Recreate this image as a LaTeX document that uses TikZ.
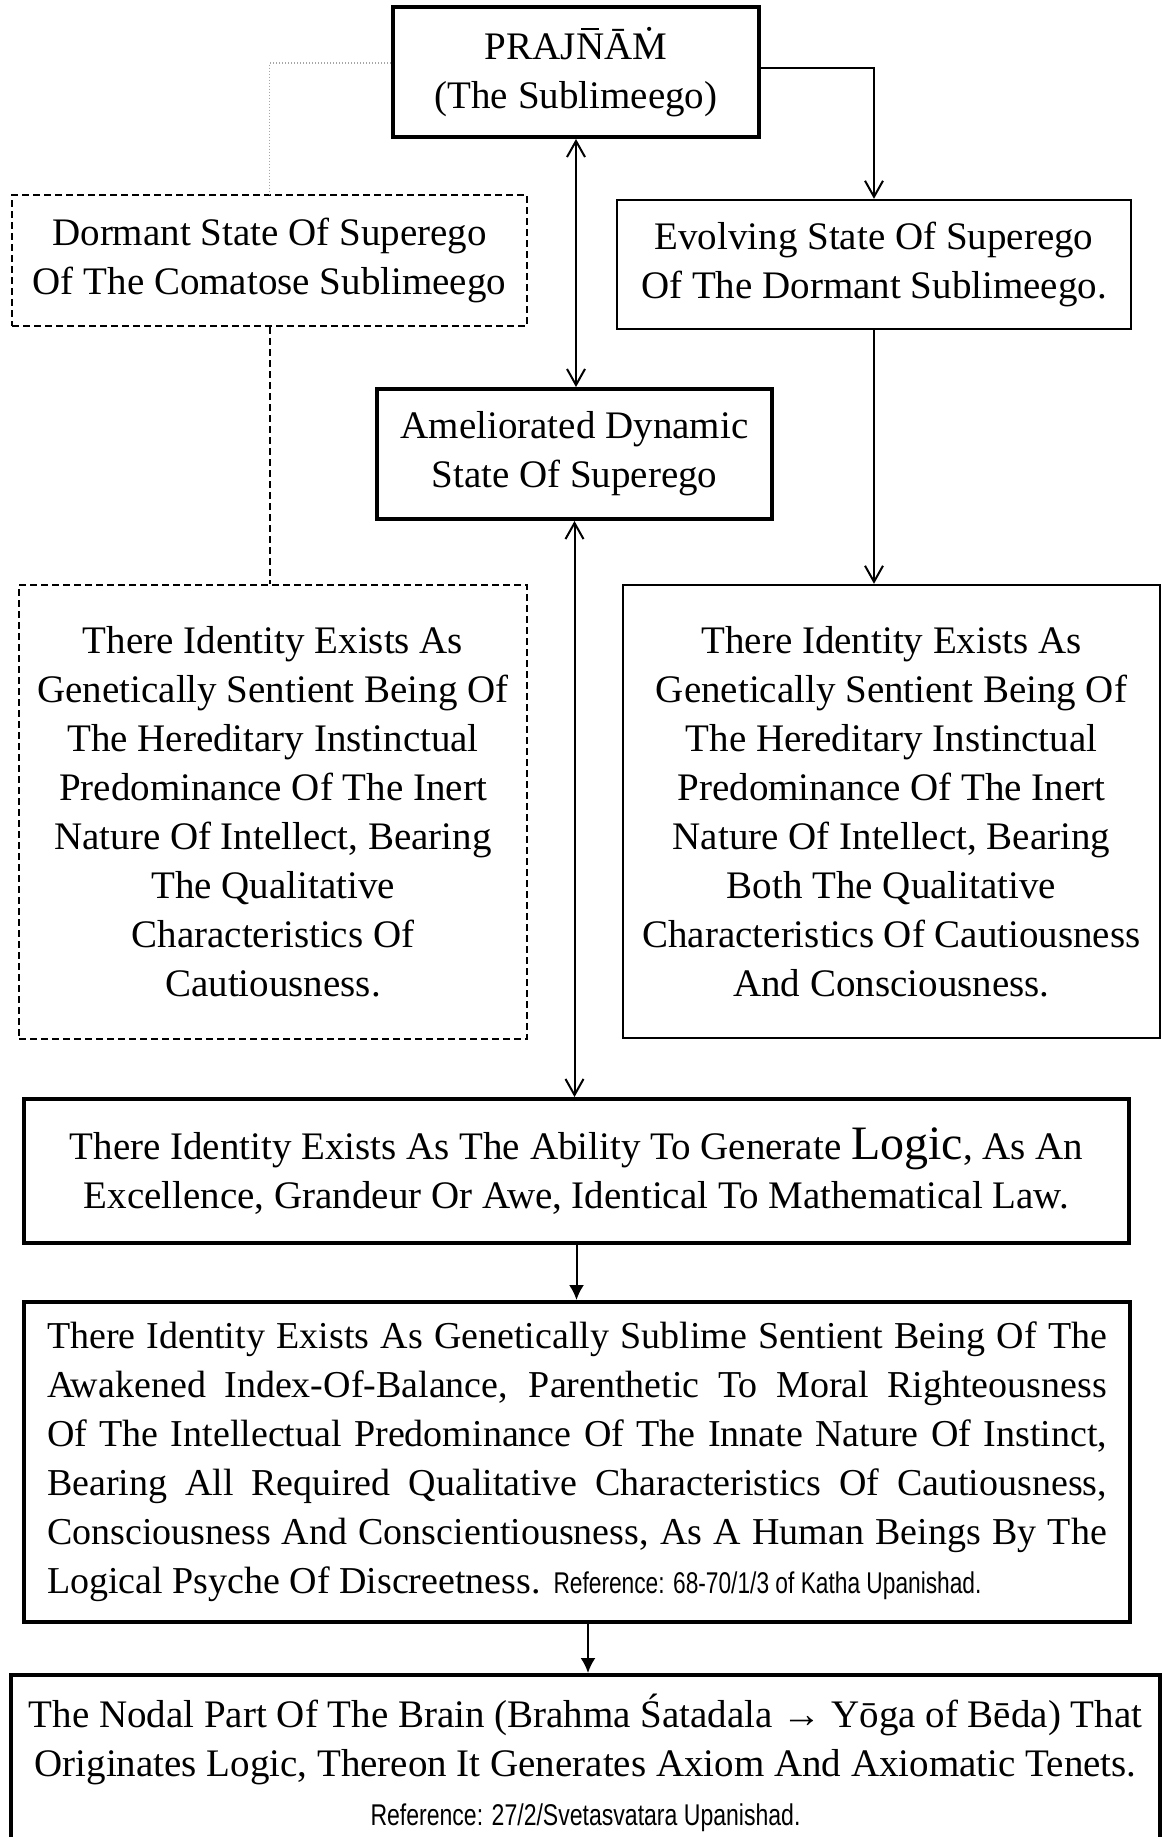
\documentclass[tikz,border=0pt]{standalone}
\usepackage{fontspec}
\setmainfont{Liberation Serif}
\newfontfamily\reffont{Liberation Sans}
\usetikzlibrary{arrows.meta}
\newcommand\jl[1]{\makebox[530pt][s]{#1}}
\newcommand\Nmac{{\ooalign{N\cr\hidewidth\raisebox{0.76em}{\rule{0.46em}{0.05em}}\hidewidth\cr}}}
\newcommand\refA{\resizebox{214pt}{\height}{\fontsize{15}{15}\reffont Reference: 68-70/1/3 of Katha Upanishad.}}
\newcommand\refB{\resizebox{215pt}{\height}{\fontsize{15}{15}\reffont Reference: 27/2/Svetasvatara Upanishad.}}
\begin{document}
\begin{tikzpicture}[x=0.5pt,y=-0.5pt,
  txt/.style={align=center, inner sep=0pt, font=\fontsize{19.5}{24.5}\selectfont},
  thickbox/.style={txt, draw, line width=2pt},
  thinbox/.style={txt, draw, line width=1.2pt},
  dashbox/.style={txt, draw, line width=1pt, dash pattern=on 3.5pt off 2pt},
  conn/.style={line width=1pt},
  vtip/.style={-{Straight Barb[length=8pt,width=9pt,line width=1pt]}},
  vvtip/.style={{Straight Barb[length=8pt,width=9pt,line width=1pt]}-{Straight Barb[length=8pt,width=9pt,line width=1pt]}},
  ftip/.style={-{Latex[length=7.5pt,width=7.5pt]}},
  dotline/.style={draw=gray!70, line width=0.6pt, dash pattern=on 0.6pt off 0.9pt},
  dashline/.style={line width=1pt, dash pattern=on 3.5pt off 2pt}]
\useasboundingbox (0,0) rectangle (1162,1837);
\fill[white] (0,0) rectangle (1162,1837);

\node[thickbox, minimum width=183pt, minimum height=65pt] (top) at (576,72)
  {PRAJ\Nmac ĀṀ\\(The Sublimeego)};
\node[dashbox, minimum width=257.5pt, minimum height=65.5pt] (dormant) at (269.5,260.5)
  {Dormant State Of Superego\\Of The Comatose Sublimeego};
\node[thinbox, minimum width=257pt, minimum height=64.5pt] (evolving) at (874,264.5)
  {Evolving State Of Superego\\Of The Dormant Sublimeego.};
\node[thickbox, minimum width=197.5pt, minimum height=65pt] (amel) at (574.5,454)
  {Ameliorated Dynamic\\State Of Superego};
\node[dashbox, minimum width=254pt, minimum height=227pt] (leftlow) at (273,812)
  {There Identity Exists As\\Genetically Sentient Being Of\\The Hereditary Instinctual\\Predominance Of The Inert\\Nature Of Intellect, Bearing\\The Qualitative\\Characteristics Of\\Cautiousness.};
\node[thinbox, minimum width=268.5pt, minimum height=226.5pt] (rightlow) at (891.5,811.5)
  {There Identity Exists As\\Genetically Sentient Being Of\\The Hereditary Instinctual\\Predominance Of The Inert\\Nature Of Intellect, Bearing\\Both The Qualitative\\Characteristics Of Cautiousness\\And Consciousness.};
\node[thickbox, minimum width=552.5pt, minimum height=72pt] (logic) at (576.5,1171)
  {There Identity Exists As The Ability To Generate {\fontsize{24}{24.5}\selectfont Logic}, As An\\Excellence, Grandeur Or Awe, Identical To Mathematical Law.};
\node[thickbox, minimum width=553pt, minimum height=160pt, font=\fontsize{19}{24.5}\selectfont] (big) at (577,1462)
  {\jl{There Identity Exists As Genetically Sublime Sentient Being Of The}\\
   \jl{Awakened Index-Of-Balance, Parenthetic To Moral Righteousness}\\
   \jl{Of The Intellectual Predominance Of The Innate Nature Of Instinct,}\\
   \jl{Bearing All Required Qualitative Characteristics Of Cautiousness,}\\
   \jl{Consciousness And Conscientiousness, As A Human Beings By The}\\
   \makebox[530pt][l]{Logical Psyche Of Discreetness. \refA}};
\node[thickbox, minimum width=574.5pt, minimum height=87.5pt] (last) at (585.5,1762.5)
  {The Nodal Part Of The Brain (Brahma Śatadala → Yōga of Bēda) That\\Originates Logic, Thereon It Generates Axiom And Axiomatic Tenets.\\\refB};

\draw[dotline] ([yshift=4.5pt]top.west) -| (dormant.north);
\draw[conn,vtip] ([yshift=2pt]top.east) -| (evolving.north);
\draw[conn,vvtip] (top.south) -- (top.south |- amel.north);
\draw[dashline] (dormant.south) -- (dormant.south |- leftlow.north);
\draw[conn,vtip] (evolving.south) -- (evolving.south |- rightlow.north);
\draw[conn,vvtip] (amel.south) -- (amel.south |- logic.north);
\draw[conn,ftip] (logic.south) -- (logic.south |- big.north);
\draw[conn,ftip] ([xshift=5.5pt]big.south) -- ([xshift=5.5pt]big.south |- last.north);
\end{tikzpicture}
\end{document}
